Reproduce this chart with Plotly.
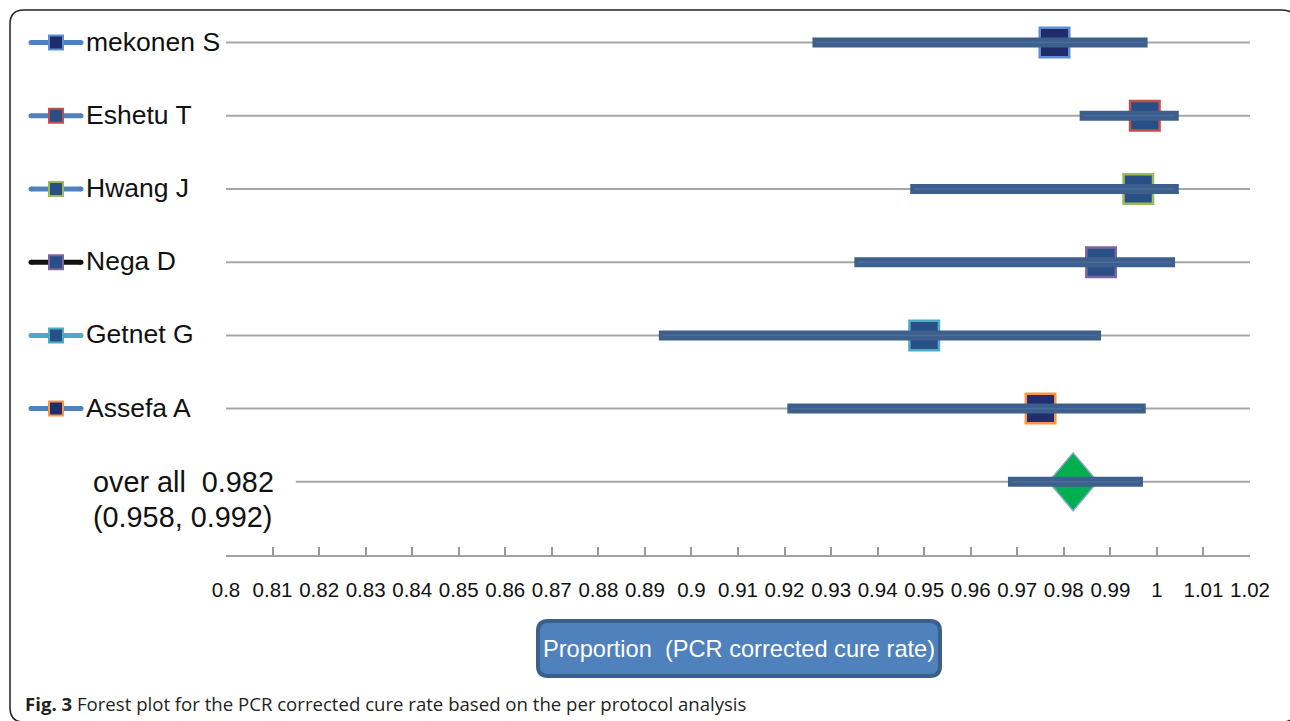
import plotly.graph_objects as go

# ---------------- data ----------------
studies = ["mekonen S", "Eshetu T", "Hwang J", "Nega D", "Getnet G", "Assefa A"]
est = [0.978, 0.9974, 0.996, 0.988, 0.950, 0.975]
lo = [0.926, 0.9834, 0.947, 0.935, 0.893, 0.9206]
hi = [0.998, 1.0047, 1.0047, 1.0039, 0.988, 0.9976]
overall_label = "over all  0.982"
overall_ci_label = "(0.958, 0.992)"
overall_est = 0.982
overall_lo = 0.968
overall_hi = 0.997
tick_vals = [round(0.80 + 0.01 * i, 2) for i in range(23)]
tick_text = ["0.8", "0.81", "0.82", "0.83", "0.84", "0.85", "0.86", "0.87", "0.88", "0.89",
             "0.9", "0.91", "0.92", "0.93", "0.94", "0.95", "0.96", "0.97", "0.98", "0.99",
             "1", "1.01", "1.02"]
x_title = "Proportion  (PCR corrected cure rate)"
caption_bold = "Fig. 3"
caption_text = "Forest plot for the PCR corrected cure rate based on the per protocol analysis"

# ---------------- styles ----------------
sq_fill = ["#1f2b6c", "#2a4f86", "#2a4f86", "#2a4f86", "#2a4f86", "#222d6e"]
sq_edge = ["#5b8fd0", "#c0504d", "#9bbb59", "#8064a2", "#4bacc6", "#f79646"]
leg_line = ["#4f81bd", "#4f81bd", "#4f81bd", "#111111", "#4bacc6", "#4f81bd"]
bar_col = "#3d5f8c"
bar_hi = "#4a6d9e"
grid_col = "#a6a6a6"
FONT = "Liberation Sans, Arial, sans-serif"

W, H = 1290, 721
L, R, T, B = 0, 40, 6, 166
PW = W - L - R
PH = H - T - B


def px(x):
    return (x - L) / PW


def py(y):
    return (H - B - y) / PH


def keep_spaces(s):
    return s.replace("  ", "\u00a0 ")


def rounded_rect(x0, y0, x1, y1, r):
    pts = [
        f"M {px(x0 + r)},{py(y0)}",
        f"L {px(x1 - r)},{py(y0)}",
        f"Q {px(x1)},{py(y0)} {px(x1)},{py(y0 + r)}",
        f"L {px(x1)},{py(y1 - r)}",
        f"Q {px(x1)},{py(y1)} {px(x1 - r)},{py(y1)}",
        f"L {px(x0 + r)},{py(y1)}",
        f"Q {px(x0)},{py(y1)} {px(x0)},{py(y1 - r)}",
        f"L {px(x0)},{py(y0 + r)}",
        f"Q {px(x0)},{py(y0)} {px(x0 + r)},{py(y0)}",
        "Z",
    ]
    return " ".join(pts)


fig = go.Figure()
n = len(studies)
rows = list(range(n))
orow = n

# grid lines
for i in rows:
    fig.add_trace(go.Scatter(x=[tick_vals[0], tick_vals[-1]], y=[i, i], mode="lines",
                             line=dict(color=grid_col, width=2), hoverinfo="skip", showlegend=False))
fig.add_trace(go.Scatter(x=[0.815, tick_vals[-1]], y=[orow, orow], mode="lines",
                         line=dict(color=grid_col, width=2), hoverinfo="skip", showlegend=False))

# squares (point estimates)
for i in rows:
    fig.add_trace(go.Scatter(x=[est[i]], y=[i], mode="markers",
                             marker=dict(symbol="square", size=29.5, color=sq_fill[i],
                                         line=dict(color=sq_edge[i], width=2.5)),
                             name=studies[i], showlegend=False))

# overall diamond
dx, dy = 0.00527, 0.396
fig.add_trace(go.Scatter(x=[overall_est - dx, overall_est, overall_est + dx, overall_est, overall_est - dx],
                         y=[orow, orow - dy, orow, orow + dy, orow], mode="lines", fill="toself",
                         fillcolor="#00b050", line=dict(color="#8ea5cf", width=1.5),
                         hoverinfo="skip", showlegend=False))

# CI bars
inset = 0.0008
for i in rows:
    fig.add_trace(go.Scatter(x=[lo[i], hi[i]], y=[i, i], mode="lines",
                             line=dict(color=bar_col, width=10), showlegend=False))
    fig.add_trace(go.Scatter(x=[lo[i] + inset, hi[i] - inset], y=[i, i], mode="lines",
                             line=dict(color=bar_hi, width=1.5), hoverinfo="skip", showlegend=False))
fig.add_trace(go.Scatter(x=[overall_lo, overall_hi], y=[orow, orow], mode="lines",
                         line=dict(color=bar_col, width=10), showlegend=False))
fig.add_trace(go.Scatter(x=[overall_lo + inset, overall_hi - inset], y=[orow, orow], mode="lines",
                         line=dict(color=bar_hi, width=1.5), hoverinfo="skip", showlegend=False))

# left legend glyphs (x2 axis in pixel units)
for i in rows:
    fig.add_trace(go.Scatter(x=[31, 81], y=[i, i], mode="lines", xaxis="x2",
                             line=dict(color=leg_line[i], width=5), hoverinfo="skip", showlegend=False))
    fig.add_trace(go.Scatter(x=[31, 81], y=[i, i], mode="markers", xaxis="x2",
                             marker=dict(symbol="circle", size=5, color=leg_line[i], line=dict(width=0)),
                             hoverinfo="skip", showlegend=False))
    fig.add_trace(go.Scatter(x=[56], y=[i], mode="markers", xaxis="x2",
                             marker=dict(symbol="square", size=14, color=sq_fill[i],
                                         line=dict(color=sq_edge[i], width=2)),
                             hoverinfo="skip", showlegend=False))
    fig.add_trace(go.Scatter(x=[86], y=[i + 0.02], mode="text", xaxis="x2", text=[studies[i]],
                             textposition="middle right",
                             textfont=dict(family=FONT, size=26.5, color="#111111"),
                             hoverinfo="skip", showlegend=False))

shapes = [
    dict(type="path", xref="paper", yref="paper", path=rounded_rect(10, 10, 1296, 722, 14),
         line=dict(color="#222222", width=1.5), fillcolor="rgba(0,0,0,0)", layer="below"),
    dict(type="path", xref="paper", yref="paper", path=rounded_rect(538, 621, 940, 676, 10),
         line=dict(color="#3a5f8b", width=4), fillcolor="#4f81bd", layer="above"),
]

annotations = [
    dict(x=px(91), y=orow, xref="paper", yref="y", text=keep_spaces(overall_label), showarrow=False,
         xanchor="left", yanchor="middle", font=dict(family=FONT, size=28.8, color="#111111")),
    dict(x=px(91), y=orow + 35 / 73.17, xref="paper", yref="y", text=keep_spaces(overall_ci_label),
         showarrow=False, xanchor="left", yanchor="middle",
         font=dict(family=FONT, size=28.8, color="#111111")),
    dict(x=px(739), y=py(649), xref="paper", yref="paper", text=keep_spaces(x_title), showarrow=False,
         xanchor="center", yanchor="middle", font=dict(family=FONT, size=23.6, color="#ffffff")),
    dict(x=px(23), y=py(703), xref="paper", yref="paper",
         text=f"<b>{caption_bold}</b> {caption_text}", showarrow=False,
         xanchor="left", yanchor="middle", font=dict(family="Open Sans, Noto Sans, sans-serif", size=18.6, color="#231f20")),
]

fig.update_layout(
    width=W, height=H,
    margin=dict(l=L, r=R, t=T, b=B, pad=0, autoexpand=False),
    paper_bgcolor="white", plot_bgcolor="white",
    showlegend=False,
    xaxis=dict(domain=[226 / PW, 1.0], range=[tick_vals[0], tick_vals[-1]], tickvals=tick_vals,
               ticktext=tick_text, ticks="inside", ticklen=8, tickwidth=1.5, tickcolor="#999999",
               showline=True, linecolor="#a0a0a0", linewidth=2, showgrid=False, zeroline=False,
               tickfont=dict(family=FONT, size=20.5, color="#111111"), ticklabelstandoff=15,
               automargin=False, fixedrange=True),
    xaxis2=dict(domain=[0, 226 / PW], range=[0, 226], visible=False, anchor="y", fixedrange=True),
    yaxis=dict(range=[orow + 1, -0.5], visible=False, automargin=False, fixedrange=True),
    shapes=shapes,
    annotations=annotations,
)

fig.write_html("out.html", config={"displayModeBar": False},
               post_script="document.body.style.margin='0';document.body.style.overflow='hidden';")
